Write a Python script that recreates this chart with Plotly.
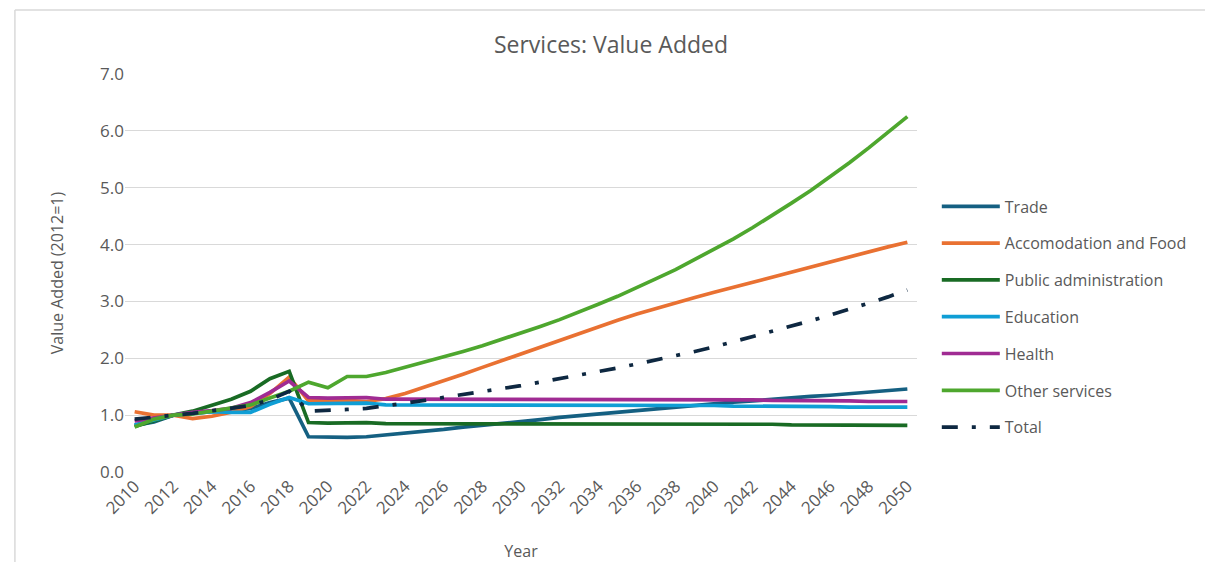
import plotly.graph_objects as go

years = list(range(2010, 2051))

trade = [0.82, 0.88, 1.00, 1.03, 1.06, 1.07, 1.12, 1.22, 1.30, 0.62,
         0.61, 0.61, 0.62, 0.65, 0.69, 0.72, 0.75, 0.79, 0.82, 0.86,
         0.89, 0.92, 0.96, 0.99, 1.03, 1.06, 1.09, 1.12, 1.15, 1.18,
         1.20, 1.23, 1.25, 1.28, 1.30, 1.33, 1.35, 1.38, 1.40, 1.43, 1.46]

accom = [1.06, 1.00, 1.00, 0.94, 0.98, 1.05, 1.15, 1.38, 1.67, 1.25,
         1.25, 1.26, 1.24, 1.29, 1.38, 1.49, 1.60, 1.72, 1.84, 1.96,
         2.08, 2.20, 2.32, 2.44, 2.56, 2.67, 2.78, 2.88, 2.98, 3.07,
         3.16, 3.25, 3.34, 3.43, 3.52, 3.61, 3.70, 3.79, 3.87, 3.96, 4.04]

public_admin = [0.80, 0.90, 1.00, 1.07, 1.18, 1.28, 1.42, 1.64, 1.77, 0.87,
                0.86, 0.87, 0.87, 0.85, 0.85, 0.85, 0.85, 0.85, 0.85, 0.85,
                0.85, 0.85, 0.85, 0.85, 0.85, 0.85, 0.85, 0.84, 0.84, 0.84,
                0.84, 0.84, 0.84, 0.84, 0.83, 0.83, 0.83, 0.83, 0.82, 0.82, 0.82]

education = [0.83, 0.92, 1.00, 1.03, 1.06, 1.05, 1.05, 1.19, 1.31, 1.20,
             1.20, 1.21, 1.21, 1.18, 1.18, 1.18, 1.18, 1.18, 1.18, 1.18,
             1.18, 1.18, 1.18, 1.18, 1.18, 1.18, 1.18, 1.17, 1.17, 1.17,
             1.17, 1.16, 1.16, 1.16, 1.15, 1.15, 1.15, 1.14, 1.14, 1.14, 1.14]

health = [0.90, 0.95, 1.00, 1.05, 1.08, 1.12, 1.22, 1.40, 1.60, 1.31,
          1.30, 1.31, 1.31, 1.28, 1.28, 1.28, 1.28, 1.28, 1.28, 1.28,
          1.28, 1.28, 1.28, 1.28, 1.28, 1.28, 1.28, 1.28, 1.28, 1.28,
          1.28, 1.27, 1.27, 1.26, 1.26, 1.25, 1.25, 1.25, 1.24, 1.24, 1.24]

other = [0.79, 0.93, 1.00, 1.02, 1.07, 1.12, 1.18, 1.30, 1.42, 1.58,
         1.48, 1.68, 1.68, 1.75, 1.84, 1.93, 2.02, 2.12, 2.22, 2.33,
         2.44, 2.56, 2.68, 2.81, 2.95, 3.09, 3.24, 3.40, 3.56, 3.74,
         3.92, 4.10, 4.30, 4.51, 4.73, 4.95, 5.19, 5.44, 5.70, 5.97, 6.25]

total = [0.93, 0.97, 1.00, 1.03, 1.08, 1.12, 1.17, 1.27, 1.42, 1.07,
         1.08, 1.10, 1.12, 1.16, 1.21, 1.26, 1.31, 1.36, 1.41, 1.46,
         1.52, 1.58, 1.64, 1.70, 1.76, 1.83, 1.90, 1.97, 2.05, 2.12,
         2.20, 2.29, 2.38, 2.47, 2.56, 2.66, 2.76, 2.86, 2.97, 3.08, 3.20]

series_names = ["Trade", "Accomodation and Food", "Public administration",
                "Education", "Health", "Other services", "Total"]
series_values = [trade, accom, public_admin, education, health, other, total]
series_colors = ["#156082", "#E97132", "#196B24", "#0F9ED5", "#A02B93", "#4EA72E", "#0E2841"]

x_ticks = list(range(2010, 2051, 2))
y_ticks = [0, 1, 2, 3, 4, 5, 6, 7]

FONT = "Open Sans"
GREY = "#595959"
W, H = 1205, 554

fig = go.Figure()
for i, (name, vals, col) in enumerate(zip(series_names, series_values, series_colors)):
    dash = "16px,14px,4px,14px" if name == "Total" else "solid"
    fig.add_trace(go.Scatter(
        x=years, y=vals, name=name, mode="lines",
        line=dict(color=col, width=3.7, dash=dash),
        legendgroup="g%d" % i,
    ))

fig.update_layout(
    width=W, height=H,
    margin=dict(l=117, r=296, t=66, b=90, autoexpand=False),
    paper_bgcolor="white", plot_bgcolor="white",
    font=dict(family=FONT, color=GREY, size=16),
    title=dict(text="Services: Value Added", x=603 / W, xref="container",
               y=1 - 37 / H, yref="container", xanchor="center", yanchor="middle",
               font=dict(size=23, color=GREY, family=FONT)),
    showlegend=True,
    legend=dict(x=1.025, xanchor="left", y=0.71, yanchor="top",
                font=dict(size=16, color=GREY, family=FONT),
                itemwidth=58, tracegroupgap=13, traceorder="grouped",
                bgcolor="rgba(0,0,0,0)"),
    xaxis=dict(range=[2009.5, 2050.5], tickvals=x_ticks, ticktext=[str(t) for t in x_ticks],
               tickangle=-45, showgrid=False, zeroline=False, showline=False, ticks="",
               tickfont=dict(size=17, color=GREY), fixedrange=True,
               title=dict(text="Year", font=dict(size=16, color=GREY), standoff=28)),
    yaxis=dict(range=[0, 7], tickvals=y_ticks, tickformat=".1f", showgrid=True,
               gridcolor="#d9d9d9", gridwidth=1, zeroline=False, showline=False, ticks="",
               tickfont=dict(size=17, color=GREY),
               title=dict(text="Value Added (2012=1)", font=dict(size=16, color=GREY), standoff=32)),
    shapes=[
        dict(type="line", xref="paper", yref="paper", x0=-0.139, x1=1.5, y0=1.161, y1=1.161,
             line=dict(color="#d9d9d9", width=1.5)),
        dict(type="line", xref="paper", yref="paper", x0=-0.139, x1=-0.139, y0=1.161, y1=-0.4,
             line=dict(color="#d9d9d9", width=1.5)),
    ],
)

fig.write_html("out.html")
